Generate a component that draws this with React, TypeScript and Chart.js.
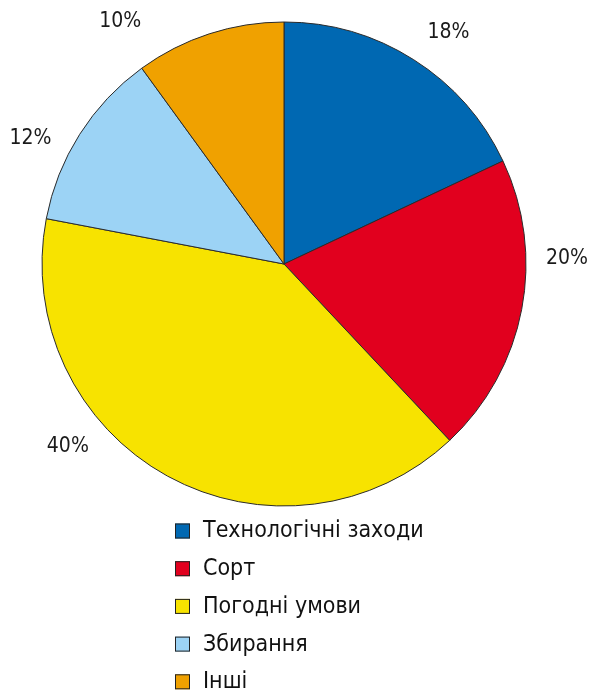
import React, { useEffect, useRef } from "react";
import { Chart, registerables } from "chart.js";

Chart.register(...registerables);

const categories = ["Технологічні заходи", "Сорт", "Погодні умови", "Збирання", "Інші"];
const values = [18, 20, 40, 12, 10];
const valueLabels = ["18%", "20%", "40%", "12%", "10%"];
const colors = ["#0068b2", "#e1001e", "#f7e300", "#9cd3f5", "#f0a100"];

const FONT = "'Liberation Sans Narrow', 'DejaVu Sans Condensed', sans-serif";

const pieExtras = {
  id: "pieExtras",
  afterDraw(chart: any, _args: any, opts: any) {
    const ctx = chart.ctx;
    const meta = chart.getDatasetMeta(0);
    ctx.save();
    // percentage labels
    ctx.font = `${opts.labelSize}px ${FONT}`;
    ctx.fillStyle = "#1a1a1a";
    ctx.textAlign = "center";
    ctx.textBaseline = "middle";
    meta.data.forEach((arc: any, i: number) => {
      const p = arc.getProps(["x", "y", "startAngle", "endAngle", "outerRadius"], true);
      const mid = (p.startAngle + p.endAngle) / 2 + (opts.angleShift[i] * Math.PI) / 180;
      const r = p.outerRadius + opts.labelGap[i];
      ctx.fillText(valueLabels[i], p.x + Math.cos(mid) * r, p.y + Math.sin(mid) * r);
    });
    // legend
    ctx.font = `${opts.legendSize}px ${FONT}`;
    ctx.textAlign = "left";
    ctx.textBaseline = "middle";
    chart.data.labels.forEach((lab: string, i: number) => {
      const yc = opts.legendTop + i * opts.legendStep;
      ctx.fillStyle = colors[i];
      ctx.fillRect(opts.legendX, yc - 7, 15, 15);
      ctx.strokeStyle = "#222";
      ctx.lineWidth = 1;
      ctx.strokeRect(opts.legendX + 0.5, yc - 6.5, 14, 14);
      ctx.fillStyle = "#111";
      ctx.fillText(lab, opts.legendX + 28, yc + 1);
    });
    ctx.restore();
  },
};

export default function App() {
  const ref = useRef<HTMLCanvasElement>(null);
  useEffect(() => {
    document.body.style.margin = "0";
    const chart = new Chart(ref.current!, {
      type: "pie",
      data: {
        labels: categories,
        datasets: [
          {
            data: values,
            backgroundColor: colors,
            borderColor: "#2a2a2a",
            borderWidth: 1,
          },
        ],
      },
      options: {
        responsive: false,
        animation: false,
        radius: 242,
        layout: { padding: { left: 0, top: 0, right: 22, bottom: 162 } },
        plugins: {
          legend: { display: false },
          tooltip: { enabled: false },
          pieExtras: {
            labelSize: 21,
            legendSize: 23,
            angleShift: [3, -12, 21, -6, -16],
            labelGap: [42, 41, 41, 41, 51],
            legendX: 175,
            legendTop: 530.5,
            legendStep: 37.7,
          },
        } as any,
      },
      plugins: [pieExtras],
    });
    return () => chart.destroy();
  }, []);
  return <canvas ref={ref} width={590} height={690} style={{ display: "block" }} />;
}
